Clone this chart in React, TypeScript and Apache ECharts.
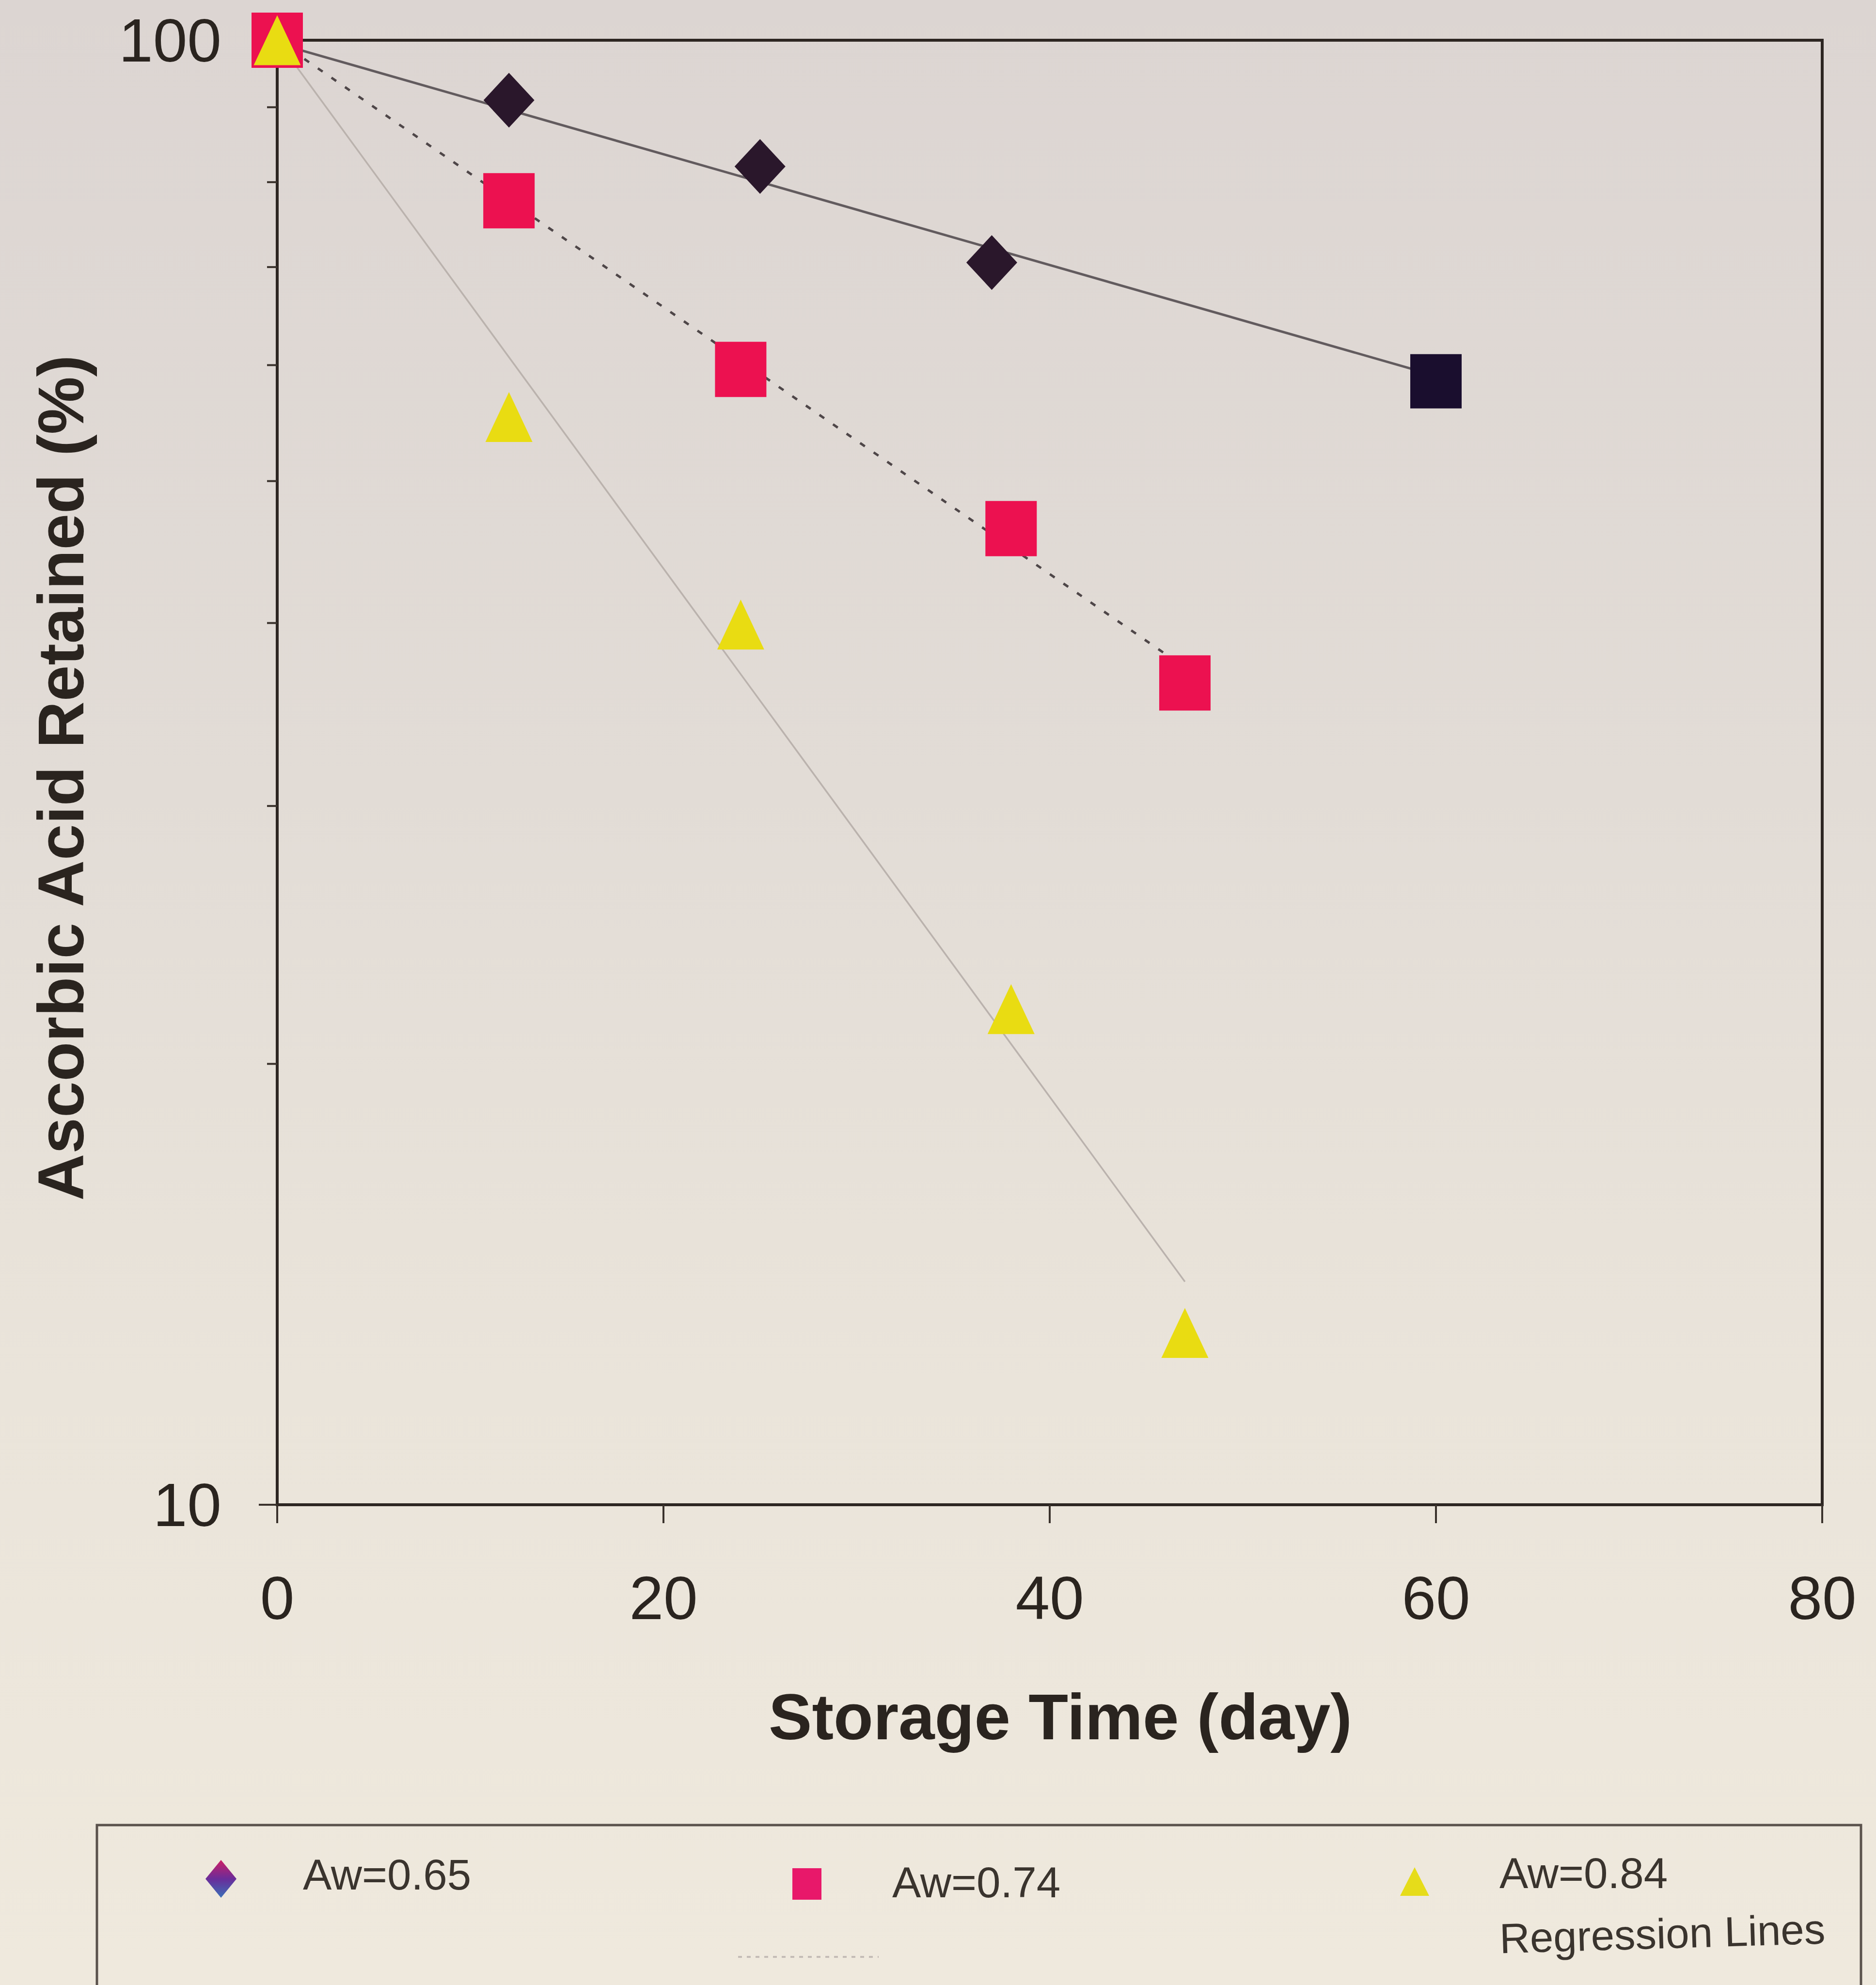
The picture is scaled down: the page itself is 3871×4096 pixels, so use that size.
import React, { useEffect, useRef } from "react";
import * as echarts from "echarts";

// ---- data ----
const days65 = [0, 12, 25, 37, 60];
const aw065 = [100, 91.0, 82.0, 70.5, 58.5];
const days74 = [0, 12, 24, 38, 47];
const aw074 = [100, 77.7, 59.6, 46.4, 36.4];
const days84 = [0, 12, 24, 38, 47];
const aw084 = [100, 55.3, 39.9, 21.8, 13.1];

// regression line end points
const regDays65 = [0, 60];
const reg65 = [99.5, 59.0];
const regDays74 = [0, 47];
const reg74 = [100, 37.3];
const regDays84 = [0, 47];
const reg84 = [100, 14.2];

const xTicks = [0, 20, 40, 60, 80];
const yMajor = [10, 100];
const yMinorTicks = [20, 30, 40, 50, 60, 70, 80, 90];

const legendLabels = ["Aw=0.65", "Aw=0.74", "Aw=0.84", "Regression Lines"];

const W = 3871;
const H = 4096;
const FONT = '"Liberation Sans", Arial, Helvetica, sans-serif';
const INK = "#2a241f";

const pairs = (xs: number[], ys: number[]) => xs.map((x, i) => [x, ys[i]]);

export default function App() {
  const ref = useRef<HTMLDivElement>(null);

  useEffect(() => {
    document.body.style.margin = "0";
    if (!ref.current) return;
    const chart = echarts.init(ref.current, undefined, { renderer: "svg" });

    const d65 = days65.map((d, i) =>
      i === days65.length - 1
        ? { value: [d, aw065[i]], symbol: "rect", symbolSize: [106, 112], itemStyle: { color: "#1a0e2e", opacity: 1 } }
        : [d, aw065[i]]
    );

    const option: any = {
      animation: false,
      backgroundColor: "transparent",
      grid: {
        left: 572,
        right: 111,
        top: 83,
        bottom: 991,
        show: true,
        borderColor: "#2d2622",
        borderWidth: 6,
        backgroundColor: "transparent",
      },
      xAxis: {
        type: "value",
        min: xTicks[0],
        max: xTicks[xTicks.length - 1],
        interval: 20,
        axisLine: { show: true, lineStyle: { color: "#2d2622", width: 6 } },
        axisTick: { show: true, inside: false, length: 38, lineStyle: { color: "#3a322c", width: 4 } },
        axisLabel: { show: true, margin: 128, fontSize: 127, fontFamily: FONT, color: INK },
        splitLine: { show: false },
      },
      yAxis: {
        type: "log",
        logBase: 10,
        min: yMajor[0],
        max: yMajor[1],
        axisLine: { show: true, lineStyle: { color: "#2d2622", width: 6 } },
        axisTick: { show: true, inside: false, length: 38, lineStyle: { color: "#3a322c", width: 4 } },
        minorTick: { show: false },
        axisLabel: {
          show: true,
          margin: 115,
          fontSize: 127,
          fontFamily: FONT,
          color: INK,
          formatter: (v: number) => String(Math.round(v)),
        },
        splitLine: { show: false },
      },
      series: [
        {
          type: "custom",
          name: "minorTicks",
          coordinateSystem: "cartesian2d",
          clip: false,
          silent: true,
          z: 1,
          data: yMinorTicks.map((v) => [0, v]),
          encode: { x: 0, y: 1 },
          renderItem: (_params: any, api: any) => {
            const p = api.coord([api.value(0), api.value(1)]);
            return {
              type: "line",
              shape: { x1: p[0] - 21, y1: p[1], x2: p[0], y2: p[1] },
              style: { stroke: "#3a322c", lineWidth: 4 },
            };
          },
        },
        {
          type: "line",
          name: "reg65",
          data: pairs(regDays65, reg65),
          symbol: "none",
          z: 2,
          lineStyle: { color: "#625b5e", width: 5 },
        },
        {
          type: "line",
          name: "reg74",
          data: pairs(regDays74, reg74),
          symbol: "none",
          z: 2,
          lineStyle: { color: "#4e4648", width: 5, type: [12, 22] },
        },
        {
          type: "line",
          name: "reg84",
          data: pairs(regDays84, reg84),
          symbol: "none",
          z: 2,
          lineStyle: { color: "#bab2ad", width: 3.5 },
        },
        {
          type: "scatter",
          name: legendLabels[0],
          data: d65,
          symbol: "diamond",
          symbolSize: [105, 113],
          z: 3,
          itemStyle: { color: "#2a172b", opacity: 1 },
        },
        {
          type: "scatter",
          name: legendLabels[1],
          data: pairs(days74, aw074),
          symbol: "rect",
          symbolSize: [106, 114],
          z: 4,
          itemStyle: { color: "#ec1150", opacity: 1 },
        },
        {
          type: "scatter",
          name: legendLabels[2],
          data: pairs(days84, aw084),
          symbol: "triangle",
          symbolSize: [97, 103],
          z: 5,
          itemStyle: { color: "#e9dc12", opacity: 1 },
        },
      ],
      graphic: [
        {
          type: "text",
          x: 125,
          y: 1605,
          rotation: Math.PI / 2,
          style: {
            text: "Ascorbic Acid Retained (%)",
            fontSize: 134,
            fontWeight: "bold",
            fontFamily: FONT,
            fill: INK,
            align: "center",
            verticalAlign: "middle",
          },
        },
        {
          type: "text",
          x: 2188,
          y: 3542,
          style: {
            text: "Storage Time (day)",
            fontSize: 134,
            fontWeight: "bold",
            fontFamily: FONT,
            fill: INK,
            align: "center",
            verticalAlign: "middle",
          },
        },
        // legend box
        {
          type: "rect",
          shape: { x: 200, y: 3766, width: 3640, height: 400 },
          style: { fill: "transparent", stroke: "#5a524c", lineWidth: 5 },
        },
        {
          type: "polygon",
          shape: { points: [[456, 3838], [488, 3877], [456, 3916], [424, 3877]] },
          style: {
            fill: new echarts.graphic.LinearGradient(0, 0, 0, 1, [
              { offset: 0, color: "#cc1f66" },
              { offset: 0.5, color: "#6a2c9a" },
              { offset: 1, color: "#3a70b8" },
            ]),
          },
        },
        {
          type: "text",
          x: 625,
          y: 3868,
          style: { text: legendLabels[0], fontSize: 89, fontFamily: FONT, fill: "#3a342e", align: "left", verticalAlign: "middle" },
        },
        {
          type: "rect",
          shape: { x: 1635, y: 3855, width: 60, height: 65 },
          style: { fill: "#e8186a" },
        },
        {
          type: "text",
          x: 1841,
          y: 3884,
          style: { text: legendLabels[1], fontSize: 89, fontFamily: FONT, fill: "#3a342e", align: "left", verticalAlign: "middle" },
        },
        {
          type: "polygon",
          shape: { points: [[2919, 3853], [2949, 3912], [2889, 3912]] },
          style: { fill: "#e6dc1a" },
        },
        {
          type: "text",
          x: 3094,
          y: 3865,
          style: { text: legendLabels[2], fontSize: 89, fontFamily: FONT, fill: "#3a342e", align: "left", verticalAlign: "middle" },
        },
        {
          type: "line",
          shape: { x1: 1523, y1: 4038, x2: 1813, y2: 4038 },
          style: { stroke: "#c4bcb6", lineWidth: 4, lineDash: [8, 10] },
        },
        {
          type: "text",
          x: 3094,
          y: 4000,
          rotation: 0.03,
          style: { text: legendLabels[3], fontSize: 87, fontFamily: FONT, fill: "#3a342e", align: "left", verticalAlign: "middle" },
        },
      ],
    };

    chart.setOption(option);
    return () => chart.dispose();
  }, []);

  return (
    <div
      ref={ref}
      style={{
        position: "absolute",
        left: 0,
        top: 0,
        width: W,
        height: H,
        background: "linear-gradient(to bottom, #dcd5d2 0%, #e2dcd6 40%, #eae4da 70%, #efe9dd 100%)",
      }}
    />
  );
}
